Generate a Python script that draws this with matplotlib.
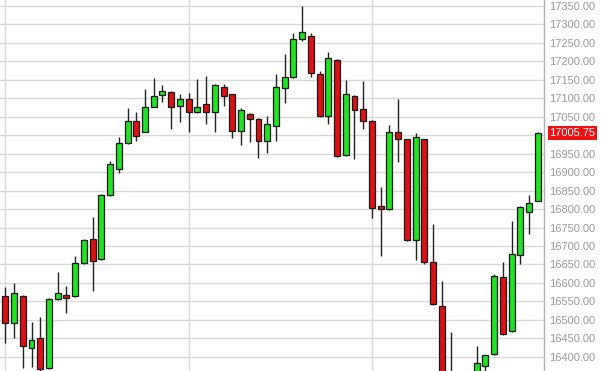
import numpy as np
import matplotlib
matplotlib.use("Agg")
import matplotlib.pyplot as plt

# daily candles (open, high, low, close)
opens = [16565, 16492, 16565, 16425, 16451, 16369, 16556, 16567, 16565, 16654,
         16718, 16664, 16837, 16908, 16979, 17038, 17010, 17077, 17108, 17118,
         17080, 17098, 17062, 17085, 17062, 17130, 17111, 17011, 17057, 17044,
         16985, 17024, 17127, 17158, 17262, 17270, 17166, 17052, 17204, 16946,
         17107, 17071, 17039, 16808, 16799, 17010, 16989, 16716, 16989, 16657,
         16537, 16310, 16200, 16100, 16250, 16375, 16407, 16617, 16470, 16676,
         16793, 16823]
highs = [16588, 16600, 16568, 16493, 16508, 16560, 16629, 16592, 16673, 16719,
         16778, 16841, 16931, 16995, 17075, 17062, 17125, 17154, 17136, 17120,
         17111, 17114, 17152, 17161, 17139, 17138, 17113, 17075, 17059, 17046,
         17052, 17167, 17220, 17276, 17350, 17276, 17173, 17226, 17206, 17150,
         17109, 17147, 17041, 16859, 17028, 17099, 16991, 17007, 16991, 16760,
         16605, 16467, 16340, 16300, 16430, 16406, 16624, 16656, 16769, 16809,
         16838, 17008]
lows = [16438, 16450, 16370, 16373, 16355, 16366, 16555, 16518, 16563, 16652,
        16577, 16662, 16835, 16897, 16977, 16984, 17008, 17076, 17089, 17018,
        17037, 17009, 17059, 17030, 17010, 17080, 16993, 16974, 16981, 16938,
        16951, 16985, 17088, 17156, 17256, 17158, 17050, 17030, 16942, 16945,
        16935, 17016, 16775, 16673, 16797, 16928, 16714, 16662, 16651, 16540,
        16280, 16200, 15900, 15950, 16200, 16330, 16405, 16459, 16468, 16651,
        16732, 16821]
closes = [16492, 16572, 16429, 16445, 16368, 16557, 16572, 16560, 16653, 16715,
          16660, 16839, 16922, 16980, 17039, 16997, 17077, 17107, 17121, 17077,
          17098, 17064, 17077, 17064, 17136, 17107, 17012, 17068, 17044, 16985,
          17030, 17130, 17157, 17262, 17279, 17168, 17052, 17210, 16944, 17112,
          17068, 17039, 16802, 16799, 17010, 16989, 16716, 16996, 16657, 16542,
          16300, 16250, 16050, 16250, 16384, 16404, 16619, 16461, 16678, 16806,
          16817, 17005.75]

y_ticks = np.arange(16400, 17351, 50)
last_price = 17005.75

o = np.array(opens, dtype=float)
h = np.array(highs, dtype=float)
l = np.array(lows, dtype=float)
c = np.array(closes, dtype=float)
x = np.arange(len(o))

fig = plt.figure(figsize=(6.08, 3.71), dpi=100)
ax = fig.add_axes([0, 0, 544 / 608, 1])

up = c >= o
colors = np.where(up, "#22e022", "#dd1111")

ax.vlines(x, l, h, color="#222222", linewidth=1, zorder=2)
ax.bar(x, np.abs(c - o), bottom=np.minimum(o, c), width=0.68,
       color=colors, edgecolor="#1a1a1a", linewidth=0.9, zorder=3)

ax.set_xlim(-0.61, 61.71)
ax.set_ylim(16361.4, 17366.3)

# the last-price tag covers the tick label next to it
labels = ["" if abs(v - last_price) < 25 else "%.2f" % v for v in y_ticks]
ax.set_yticks(y_ticks)
ax.yaxis.tick_right()
ax.set_yticklabels(labels, fontsize=8, family="Liberation Sans", color="#999999")
ax.tick_params(axis="y", length=0, pad=4)
ax.set_xticks([0, 21, 42])
ax.tick_params(axis="x", length=0, labelbottom=False)
ax.grid(True, color="#d9d9d9", linewidth=1, zorder=0)
ax.set_axisbelow(True)

for s in ["top", "left", "bottom"]:
    ax.spines[s].set_visible(False)
ax.spines["right"].set_color("#b0b0b0")
ax.spines["right"].set_linewidth(1)

ax.annotate("%.2f" % last_price, xy=(1.0, last_price),
            xycoords=("axes fraction", "data"), xytext=(4, 0),
            textcoords="offset points", va="center", ha="left",
            fontsize=8, family="Liberation Sans", color="white",
            bbox=dict(boxstyle="square,pad=0.15", fc="#ee1111", ec="none"))

fig.savefig("out.png", dpi=100)
